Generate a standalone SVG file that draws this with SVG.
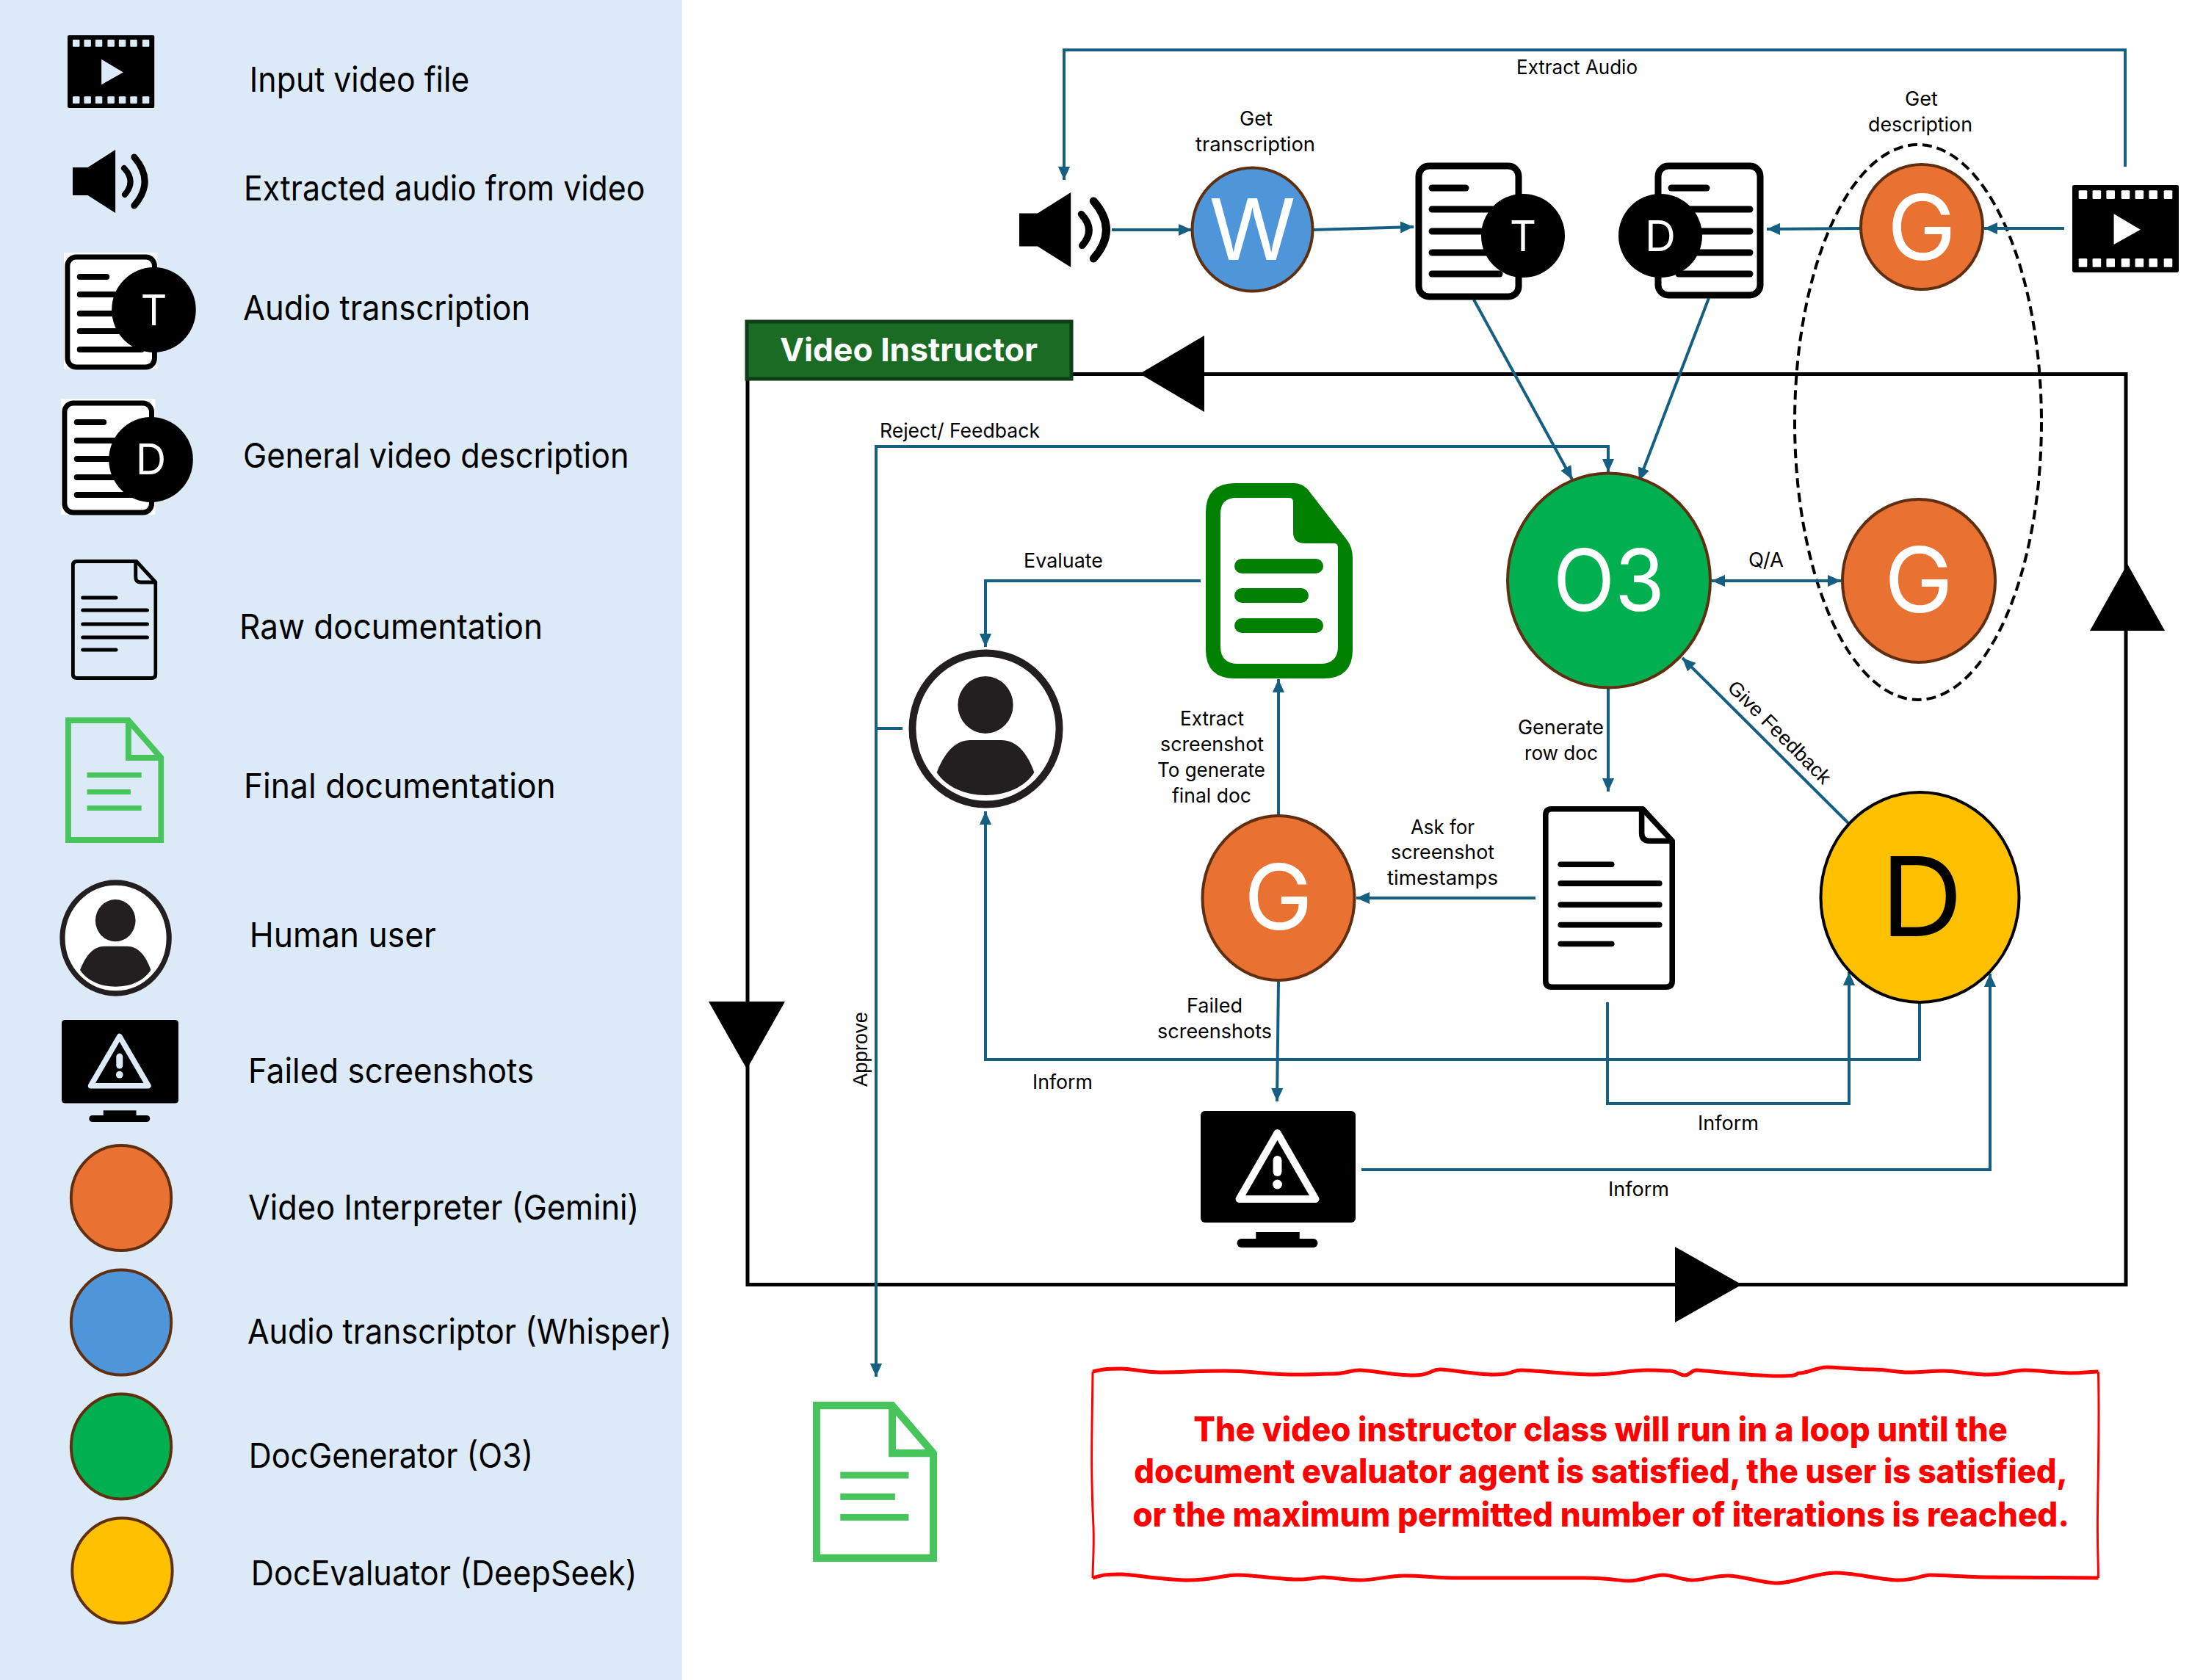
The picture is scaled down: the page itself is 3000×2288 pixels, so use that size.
<svg xmlns="http://www.w3.org/2000/svg" xmlns:xlink="http://www.w3.org/1999/xlink" width="3000" height="2288" viewBox="0 0 3000 2288">
<style>
text{font-family:"Inter","Noto Sans","Liberation Sans",sans-serif;fill:#000}
.leg{font-size:47px}
.lbl{font-size:27px}
.ar{font-family:"Liberation Sans",Arial,sans-serif;font-size:27px}
.note{font-size:46px;font-weight:800;fill:#ff0000}
.big{fill:#fff;text-anchor:middle}
.conn{fill:none;stroke:#156082;stroke-width:4;marker-end:url(#arr)}
.agent{stroke:#5f2f10;stroke-width:4}
.or{fill:#e97132}.bl{fill:#4e95d9}.gr{fill:#00b050}.ye{fill:#ffc000}
.line{stroke:#000;stroke-linecap:round;fill:none}
</style>
<defs>
<marker id="arr" viewBox="0 0 10 10" refX="10" refY="5" markerUnits="userSpaceOnUse" markerWidth="18" markerHeight="18" orient="auto-start-reverse"><path d="M0,0.5 L10,5 L0,9.5 Z" fill="#156082"/></marker>
<symbol id="film" viewBox="0 0 100 100" preserveAspectRatio="none">
<rect width="100" height="100" rx="2" fill="#000"/>
<g fill="currentColor"><rect x="6" y="6" width="8" height="10" rx="1"/><rect x="19" y="6" width="8" height="10" rx="1"/><rect x="32" y="6" width="8" height="10" rx="1"/><rect x="46" y="6" width="8" height="10" rx="1"/><rect x="59" y="6" width="8" height="10" rx="1"/><rect x="72" y="6" width="8" height="10" rx="1"/><rect x="86" y="6" width="8" height="10" rx="1"/>
<rect x="6" y="84" width="8" height="10" rx="1"/><rect x="19" y="84" width="8" height="10" rx="1"/><rect x="32" y="84" width="8" height="10" rx="1"/><rect x="46" y="84" width="8" height="10" rx="1"/><rect x="59" y="84" width="8" height="10" rx="1"/><rect x="72" y="84" width="8" height="10" rx="1"/><rect x="86" y="84" width="8" height="10" rx="1"/>
<path d="M39,33 L64,51 L39,68 Z"/></g>
</symbol>
<symbol id="speaker" viewBox="0 0 105 86" preserveAspectRatio="none">
<path d="M0,24 H21 L59,0 V86 L21,62 H0 Z" fill="#000"/>
<path d="M71,25 Q88,43 72,61" fill="none" stroke="#000" stroke-width="8" stroke-linecap="round"/>
<path d="M85,10 Q114,43 85,76" fill="none" stroke="#000" stroke-width="9" stroke-linecap="round"/>
</symbol>
<symbol id="rawdoc" viewBox="0 0 119 164" preserveAspectRatio="none">
<path d="M8,2.500 H90 L116.500,31 V156 Q116.500,161.500 111,161.500 H8 Q2.500,161.500 2.500,156 V8 Q2.500,2.500 8,2.500 Z" fill="none" stroke="#000" stroke-width="5" stroke-linejoin="round"/>
<path d="M89,2.500 V24 Q89,31 96,31 H116.500" fill="none" stroke="#000" stroke-width="5"/>
<g class="line" stroke-width="5"><path d="M16,52 H62"/><path d="M16,69 H105"/><path d="M16,88 H105"/><path d="M16,106 H105"/><path d="M16,123 H62"/></g>
</symbol>
<symbol id="findoc" viewBox="0 0 136 171" preserveAspectRatio="none">
<path d="M4,4 H87 L132,55 V167 H4 Z" fill="none" stroke="#47c45b" stroke-width="8"/>
<path d="M87,4 V55 H132" fill="none" stroke="#47c45b" stroke-width="8"/>
<g fill="#47c45b"><rect x="30" y="75" width="75" height="7"/><rect x="30" y="98" width="60" height="7"/><rect x="30" y="120" width="75" height="7"/></g>
</symbol>
<symbol id="user" viewBox="0 0 213 217" preserveAspectRatio="none">
<ellipse cx="106.500" cy="108.500" rx="101" ry="103" fill="#fff" stroke="#231f20" stroke-width="10"/>
<ellipse cx="106" cy="76" rx="38" ry="39" fill="#231f20"/>
<path d="M39,168 C50,140 65,124 85,124 H128 C148,124 163,140 173,168 C160,188 135,199 106,199 C78,199 52,188 39,168 Z" fill="#231f20"/>
</symbol>
<symbol id="monitor" viewBox="0 0 213 186" preserveAspectRatio="none">
<rect width="213" height="152" rx="6" fill="#000"/>
<path d="M105.500,30 L158,120 H53 Z" fill="none" stroke="currentColor" stroke-width="10" stroke-linejoin="round"/>
<rect x="99.500" y="61" width="12" height="28" rx="6" fill="currentColor"/>
<circle cx="105.500" cy="100" r="6.500" fill="currentColor"/>
<rect x="76" y="165" width="60" height="12" fill="#000"/><rect x="50" y="174" width="111" height="12" rx="6" fill="#000"/>
</symbol>
</defs>
<rect width="3000" height="2288" fill="#fff"/>
<g id="legend" transform="scale(.988 1)">
<rect id="legend-panel" x="0" y="0" width="940" height="2288" fill="#dce9f6"/>
<g id="leg-film"><use href="#film" x="93" y="48" width="120" height="99" color="#dce9f6"/><text class="leg" x="344" y="125" textLength="303" lengthAdjust="spacingAndGlyphs">Input video file</text></g>
<g id="leg-audio"><use href="#speaker" x="100" y="204" width="105" height="86"/><text class="leg" x="336" y="273" textLength="553" lengthAdjust="spacingAndGlyphs">Extracted audio from video</text></g>
<g id="leg-trans"><rect x="88" y="344" width="129" height="159" fill="#fff"/><rect x="93" y="350" width="120" height="150" rx="12" fill="none" stroke="#000" stroke-width="7"/>
<g class="line" stroke-width="8"><path d="M110,377 H147"/><path d="M110,401 H170"/><path d="M110,427 H170"/><path d="M110,451 H170"/><path d="M110,476 H195"/></g>
<circle cx="212" cy="422" r="58" fill="#000"/><text class="big" x="212" y="443" font-size="57" textLength="36" lengthAdjust="spacingAndGlyphs">T</text><text class="leg" x="335" y="436" textLength="396" lengthAdjust="spacingAndGlyphs">Audio transcription</text></g>
<g id="leg-desc"><rect x="84" y="543" width="130" height="158" fill="#fff"/><rect x="89" y="549" width="120" height="149" rx="12" fill="none" stroke="#000" stroke-width="7"/>
<g class="line" stroke-width="8"><path d="M106,575 H143"/><path d="M106,600 H165"/><path d="M106,625 H165"/><path d="M106,650 H165"/><path d="M106,674 H190"/></g>
<circle cx="208" cy="626" r="58" fill="#000"/><text class="big" x="208" y="646" font-size="57" textLength="42" lengthAdjust="spacingAndGlyphs">D</text><text class="leg" x="335" y="637" textLength="532" lengthAdjust="spacingAndGlyphs">General video description</text></g>
<g id="leg-raw"><use href="#rawdoc" x="98" y="762" width="119" height="164"/><text class="leg" x="330" y="870" textLength="418" lengthAdjust="spacingAndGlyphs">Raw documentation</text></g>
<g id="leg-final"><use href="#findoc" x="90" y="977" width="136" height="171"/><text class="leg" x="336" y="1087" textLength="430" lengthAdjust="spacingAndGlyphs">Final documentation</text></g>
<g id="leg-user"><use href="#user" x="82" y="1198" width="155" height="159"/><text class="leg" x="344" y="1290" textLength="257" lengthAdjust="spacingAndGlyphs">Human user</text></g>
<g id="leg-failed"><use href="#monitor" x="85" y="1389" width="161" height="139" color="#dce9f6"/><text class="leg" x="342" y="1475" textLength="394" lengthAdjust="spacingAndGlyphs">Failed screenshots</text></g>
<g id="leg-gemini"><ellipse class="agent or" cx="167" cy="1631.500" rx="69" ry="71.500"/><text class="leg" x="342" y="1661" textLength="539" lengthAdjust="spacingAndGlyphs">Video Interpreter (Gemini)</text></g>
<g id="leg-whisper"><ellipse class="agent bl" cx="167" cy="1801" rx="69" ry="71.500"/><text class="leg" x="341" y="1830" textLength="585" lengthAdjust="spacingAndGlyphs">Audio transcriptor (Whisper)</text></g>
<g id="leg-o3"><ellipse class="agent gr" cx="167" cy="1970" rx="69" ry="71.500"/><text class="leg" x="343" y="1999" textLength="392" lengthAdjust="spacingAndGlyphs">DocGenerator (O3)</text></g>
<g id="leg-deepseek"><ellipse class="agent ye" cx="168.500" cy="2139" rx="69" ry="71.500"/><text class="leg" x="346" y="2159" textLength="532" lengthAdjust="spacingAndGlyphs">DocEvaluator (DeepSeek)</text></g>
</g>
<g id="video-instructor">
<rect x="1018" y="509.500" width="1877" height="1240" fill="none" stroke="#000" stroke-width="5"/>
<path d="M1552,509 L1640,457 V561 Z"/>
<path d="M2846,859 L2897,768 L2948,859 Z"/>
<path d="M965,1364 H1069 L1017,1456 Z"/>
<path d="M2281,1698 L2372,1749.500 L2281,1801 Z"/>
</g>
<ellipse id="gemini-group" cx="2612" cy="575" rx="168" ry="378" fill="none" stroke="#000" stroke-width="4" stroke-dasharray="13 7"/>
<g id="connectors">
<path class="conn" d="M2894,227 V68 H1449 V245"/>
<path class="conn" d="M1514,313 H1623"/>
<path class="conn" d="M1788,313 L1925,309"/>
<path class="conn" d="M2534,311 L2406,312"/>
<path class="conn" d="M2811,311 H2702"/>
<path class="conn" d="M2007,408 L2141,653"/>
<path class="conn" d="M2327,406 L2232,655"/>
<path class="conn" d="M1229,992 H1193 V608 H2190 V643"/>
<path class="conn" d="M1193,992 V1875"/>
<path class="conn" d="M1635,791 H1342 V881"/>
<path class="conn" d="M1741,1110 V925"/>
<path class="conn" d="M2091,1223 H1847"/>
<path class="conn" d="M2190,938 V1078"/>
<path class="conn" style="marker-start:url(#arr)" d="M2331,791 H2507"/>
<path class="conn" d="M2517,1121 L2291,896"/>
<path class="conn" d="M1741,1336 L1739,1500"/>
<path class="conn" d="M2614,1366 V1443 H1342 V1105"/>
<path class="conn" d="M2189,1365 V1503 H2518 V1324"/>
<path class="conn" d="M1854,1593 H2710 V1326"/>
</g>
<g id="labels">
<text class="lbl" x="2065" y="101" textLength="165" lengthAdjust="spacingAndGlyphs">Extract Audio</text>
<text class="lbl" x="1688" y="171" textLength="45" lengthAdjust="spacingAndGlyphs">Get</text>
<text class="lbl" x="1628" y="206" textLength="163" lengthAdjust="spacingAndGlyphs">transcription</text>
<text class="lbl" x="2594" y="144" textLength="45" lengthAdjust="spacingAndGlyphs">Get</text>
<text class="lbl" x="2544" y="179" textLength="142" lengthAdjust="spacingAndGlyphs">description</text>
<text class="lbl" x="1198" y="596" textLength="218" lengthAdjust="spacingAndGlyphs">Reject/ Feedback</text>
<text class="lbl" x="1394" y="773" textLength="108" lengthAdjust="spacingAndGlyphs">Evaluate</text>
<text class="lbl" x="2381" y="772" textLength="48" lengthAdjust="spacingAndGlyphs">Q/A</text>
<text class="lbl" x="1607" y="988" textLength="87" lengthAdjust="spacingAndGlyphs">Extract</text>
<text class="lbl" x="1580" y="1023" textLength="141" lengthAdjust="spacingAndGlyphs">screenshot</text>
<text class="lbl" x="1576" y="1058" textLength="147" lengthAdjust="spacingAndGlyphs">To generate</text>
<text class="lbl" x="1596" y="1093" textLength="108" lengthAdjust="spacingAndGlyphs">final doc</text>
<text class="lbl" x="2067" y="1000" textLength="117" lengthAdjust="spacingAndGlyphs">Generate</text>
<text class="lbl" x="2076" y="1035" textLength="100" lengthAdjust="spacingAndGlyphs">row doc</text>
<text class="lbl" x="1921" y="1136" textLength="87" lengthAdjust="spacingAndGlyphs">Ask for</text>
<text class="lbl" x="1894" y="1170" textLength="141" lengthAdjust="spacingAndGlyphs">screenshot</text>
<text class="lbl" x="1889" y="1205" textLength="151" lengthAdjust="spacingAndGlyphs">timestamps</text>
<text class="lbl" x="1616" y="1379" textLength="76" lengthAdjust="spacingAndGlyphs">Failed</text>
<text class="lbl" x="1576" y="1414" textLength="156" lengthAdjust="spacingAndGlyphs">screenshots</text>
<text class="lbl" x="1406" y="1483" textLength="82" lengthAdjust="spacingAndGlyphs">Inform</text>
<text class="lbl" x="2312" y="1539" textLength="83" lengthAdjust="spacingAndGlyphs">Inform</text>
<text class="lbl" x="2190" y="1629" textLength="83" lengthAdjust="spacingAndGlyphs">Inform</text>
<text class="ar" transform="translate(1181,1480) rotate(-90)" textLength="102" lengthAdjust="spacingAndGlyphs">Approve</text>
<text class="ar" transform="translate(2351,938) rotate(45)" textLength="186" lengthAdjust="spacingAndGlyphs">Give Feedback</text>
</g>
<g id="title"><rect x="1017" y="438" width="442" height="78" fill="#1a6b24" stroke="#0f3d17" stroke-width="5"/><text x="1062" y="492" font-size="44" font-weight="700" style="fill:#fff" textLength="351" lengthAdjust="spacingAndGlyphs">Video Instructor</text></g>
<g id="audio"><use href="#speaker" x="1388" y="262" width="125" height="102"/></g>
<g id="whisper"><ellipse class="agent bl" cx="1705.500" cy="312.500" rx="82" ry="84"/><text class="big" x="1705.500" y="354" font-size="116" textLength="118" lengthAdjust="spacingAndGlyphs">W</text></g>
<g id="transcription" transform="translate(-3,0)"><rect x="1935" y="226" width="136" height="178" rx="14" fill="#fff" stroke="#000" stroke-width="9"/>
<g class="line" stroke-width="9"><path d="M1953,256 H1999"/><path d="M1953,285 H2035"/><path d="M1953,315 H2035"/><path d="M1953,344 H2035"/><path d="M1953,373 H2045"/></g>
<circle cx="2077" cy="321" r="57" fill="#000"/><text class="big" x="2077" y="342" font-size="58" textLength="36" lengthAdjust="spacingAndGlyphs">T</text></g>
<g id="description" transform="translate(-4,0)"><rect x="2262" y="226" width="139" height="176" rx="14" fill="#fff" stroke="#000" stroke-width="9"/>
<g class="line" stroke-width="9"><path d="M2280,256 H2328"/><path d="M2300,285 H2387"/><path d="M2300,315 H2387"/><path d="M2300,344 H2387"/><path d="M2290,373 H2387"/></g>
<circle cx="2265" cy="321" r="57" fill="#000"/><text class="big" x="2265" y="342" font-size="58" textLength="42" lengthAdjust="spacingAndGlyphs">D</text></g>
<g id="gemini-top"><ellipse class="agent or" cx="2617" cy="309" rx="83" ry="85"/><text class="big" x="2617" y="354" font-size="124" textLength="94" lengthAdjust="spacingAndGlyphs">G</text></g>
<g id="video"><use href="#film" x="2822" y="252" width="145" height="119" color="#fff"/></g>
<g id="o3"><ellipse class="agent gr" cx="2191" cy="790.500" rx="138" ry="146"/><text class="big" x="2191" y="832" font-size="116" textLength="152" lengthAdjust="spacingAndGlyphs">O3</text></g>
<g id="gemini-qa"><ellipse class="agent or" cx="2613" cy="791" rx="104" ry="111"/><text class="big" x="2613" y="834" font-size="124" textLength="94" lengthAdjust="spacingAndGlyphs">G</text></g>
<g id="final-doc-draft" transform="translate(-8,0)"><path fill="#008000" d="M1690,658 H1770 Q1782,658 1790,668 L1842,735 Q1850,745 1850,760 V885 Q1850,924 1810,924 H1690 Q1650,924 1650,885 V698 Q1650,658 1690,658 Z"/>
<path fill="#fff" d="M1692,678 H1764 Q1769,678 1769,684 V725 Q1769,740 1785,740 H1825 Q1830,740 1830,746 V880 Q1830,904 1806,904 H1694 Q1670,904 1670,880 V700 Q1670,678 1692,678 Z"/>
<g fill="#008000"><rect x="1689" y="761" width="121" height="20" rx="10"/><rect x="1689" y="801" width="101" height="20" rx="10"/><rect x="1689" y="842" width="121" height="20" rx="10"/></g></g>
<g id="user-node"><use href="#user" x="1237" y="884" width="211" height="217"/></g>
<g id="gemini-shots"><ellipse class="agent or" cx="1741" cy="1223" rx="103.500" ry="112"/><text class="big" x="1741" y="1266" font-size="124" textLength="94" lengthAdjust="spacingAndGlyphs">G</text></g>
<g id="raw-doc"><use href="#rawdoc" x="2101" y="1098" width="180" height="250"/></g>
<g id="deepseek"><ellipse cx="2614.500" cy="1222" rx="135" ry="143" fill="#ffc000" stroke="#000" stroke-width="4"/><text x="2617" y="1275" font-size="150" text-anchor="middle" textLength="112" lengthAdjust="spacingAndGlyphs">D</text></g>
<g id="failed-shots"><use href="#monitor" x="1635" y="1513" width="211" height="186" color="#fff"/></g>
<g id="final-doc"><use href="#findoc" x="1107" y="1909" width="169" height="218"/></g>
<g id="note" transform="translate(1080 0) scale(.988 1) translate(-1080 0)">
<path fill="none" stroke="#ff0000" stroke-width="5" d="M1493,1868 C1510,1864 1515,1864 1532,1864 S1560,1869 1588,1869 S1640,1867 1675,1867 S1735,1872 1774,1872 S1805,1871 1823,1871 S1848,1866 1861,1866 S1910,1873 1935,1873 S1958,1865 1972,1865 S2020,1872 2047,1872 S2070,1866 2084,1866 S2150,1872 2183,1872 S2230,1866 2257,1866 S2278,1867 2288,1867 S2302,1873 2309,1873 S2318,1866 2325,1866 S2400,1874 2437,1874 S2458,1870 2468,1870 S2492,1862 2505,1862 S2545,1865 2567,1865 S2600,1869 2617,1869 S2650,1867 2666,1867 S2705,1872 2728,1872 S2760,1866 2778,1866 S2820,1870 2840,1870 S2868,1868 2879,1868"/>
<path fill="none" stroke="#ff0000" stroke-width="5" d="M1493,2149 C1510,2144 1515,2144 1532,2144 S1590,2152 1625,2152 S1670,2145 1693,2145 S1750,2151 1774,2151 S1800,2148 1811,2148 S1840,2152 1861,2152 S1900,2146 1923,2146 S1970,2149 1997,2149 S2130,2149 2170,2149 S2215,2153 2232,2153 S2265,2145 2279,2145 S2305,2152 2319,2152 S2350,2146 2369,2146 S2415,2156 2437,2156 S2490,2142 2517,2142 S2580,2152 2604,2152 S2635,2145 2648,2145 S2700,2148 2728,2148 S2850,2149 2879,2149"/>
<path fill="none" stroke="#ff0000" stroke-width="3" d="M1493,1868 C1492,1950 1490,2000 1494,2080 C1495,2110 1493,2130 1493,2149 M2879,1868 C2881,1950 2878,2020 2878,2080 C2878,2110 2879,2130 2879,2149"/>
<text class="note" x="1632" y="1963" textLength="1122" lengthAdjust="spacingAndGlyphs">The video instructor class will run in a loop until the</text>
<text class="note" x="1550" y="2020" textLength="1287" lengthAdjust="spacingAndGlyphs">document evaluator agent is satisfied, the user is satisfied,</text>
<text class="note" x="1548" y="2079" textLength="1291" lengthAdjust="spacingAndGlyphs">or the maximum permitted number of iterations is reached.</text>
</g>
</svg>
